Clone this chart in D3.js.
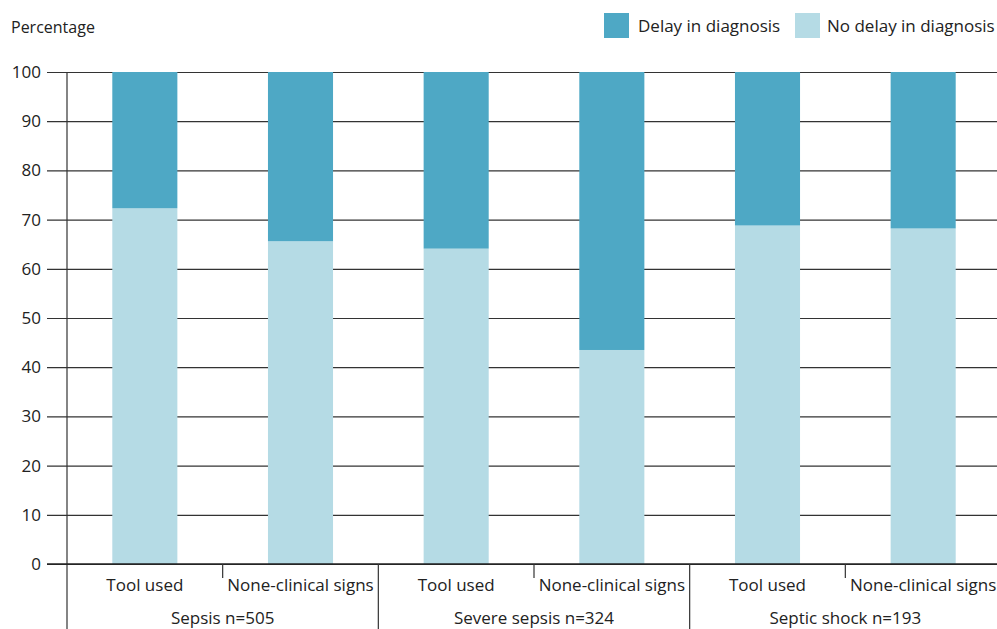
<!DOCTYPE html>
<html><head><meta charset="utf-8">
<script src="https://cdn.jsdelivr.net/npm/d3@7"></script>
<style>body{margin:0;background:#fff}svg{display:block}text{font-family:"Open Sans",sans-serif;fill:#222}</style>
</head><body><svg id="c" width="997" height="629"></svg>
<script>
const groups = ["Sepsis n=505", "Severe sepsis n=324", "Septic shock n=193"];
const subs = ["Tool used", "None-clinical signs"];
const noDelay = [72.3, 65.6, 64.1, 43.5, 68.8, 68.2];
const delay = noDelay.map(v => 100 - v);
const yTicks = [0,10,20,30,40,50,60,70,80,90,100];
const seriesNames = ["Delay in diagnosis", "No delay in diagnosis"];
const colors = ["#4ea8c5", "#b5dbe5"];

const svg = d3.select("#c");
const x0 = 67, x1 = 1001, yTop = 72, yBot = 564;
const cats = [];
groups.forEach((g,gi)=>subs.forEach((s,si)=>cats.push({g,s,key:gi+"-"+si,i:gi*2+si})));
const x = d3.scaleBand().domain(cats.map(c=>c.key)).range([x0,x1]).paddingInner(0.582).paddingOuter(0.291);
const xg = d3.scaleBand().domain(groups).range([x0,x1]);
const y = d3.scaleLinear().domain([0,100]).range([yBot,yTop]);

// gridlines
const yAxis = d3.axisLeft(y).tickValues(yTicks).tickSize(-(997-47)).tickPadding(6);
const ga = svg.append("g").attr("transform",`translate(47,0)`).call(yAxis);
ga.select(".domain").remove();
ga.selectAll(".tick line").attr("x1",0).attr("x2",997-47).attr("stroke","#333").attr("stroke-width",1.2);
ga.selectAll(".tick text").attr("x",-6).style("font-size","17px").style("font-family","'Open Sans',sans-serif").attr("fill","#222");

// bars
const stackData = cats.map(c=>({key:c.key, nd:noDelay[c.i], d:delay[c.i]}));
svg.append("g").selectAll("rect.nd").data(stackData).join("rect")
  .attr("x",d=>x(d.key)).attr("width",x.bandwidth())
  .attr("y",d=>y(d.nd)).attr("height",d=>y(0)-y(d.nd)).attr("fill",colors[1]);
svg.append("g").selectAll("rect.d").data(stackData).join("rect")
  .attr("x",d=>x(d.key)).attr("width",x.bandwidth())
  .attr("y",d=>y(100)).attr("height",d=>y(d.nd)-y(100)).attr("fill",colors[0]);

// y axis line
svg.append("line").attr("x1",x0).attr("x2",x0).attr("y1",yTop).attr("y2",629).attr("stroke","#333").attr("stroke-width",1.2);
// bottom baseline over bars
svg.append("line").attr("x1",47).attr("x2",997).attr("y1",yBot).attr("y2",yBot).attr("stroke","#222").attr("stroke-width",1.4);

// group separators
groups.forEach(g=>{
  const gx = xg(g)+xg.bandwidth();
  svg.append("line").attr("x1",gx).attr("x2",gx).attr("y1",yBot).attr("y2",629).attr("stroke","#333").attr("stroke-width",1.2);
  const mx = xg(g)+xg.bandwidth()/2;
  svg.append("line").attr("x1",mx).attr("x2",mx).attr("y1",yBot).attr("y2",578).attr("stroke","#333").attr("stroke-width",1.2);
  svg.append("text").attr("x",mx).attr("y",624).attr("text-anchor","middle").style("font-size","17px").text(g);
});
cats.forEach(c=>{
  const gx = xg(c.g), w = xg.bandwidth()/2;
  svg.append("text").attr("x",gx + (subs.indexOf(c.s)+0.5)*w).attr("y",591).attr("text-anchor","middle").style("font-size","17px").text(c.s);
});

// y title
svg.append("text").attr("x",11).attr("y",33).style("font-size","16px").text("Percentage");

// legend
const leg = [{n:seriesNames[0],c:colors[0],x:604,tx:638},{n:seriesNames[1],c:colors[1],x:795,tx:827}];
leg.forEach(l=>{
  svg.append("rect").attr("x",l.x).attr("y",13).attr("width",25).attr("height",25).attr("fill",l.c);
  svg.append("text").attr("x",l.tx).attr("y",32).style("font-size","17px").text(l.n);
});
</script></body></html>
